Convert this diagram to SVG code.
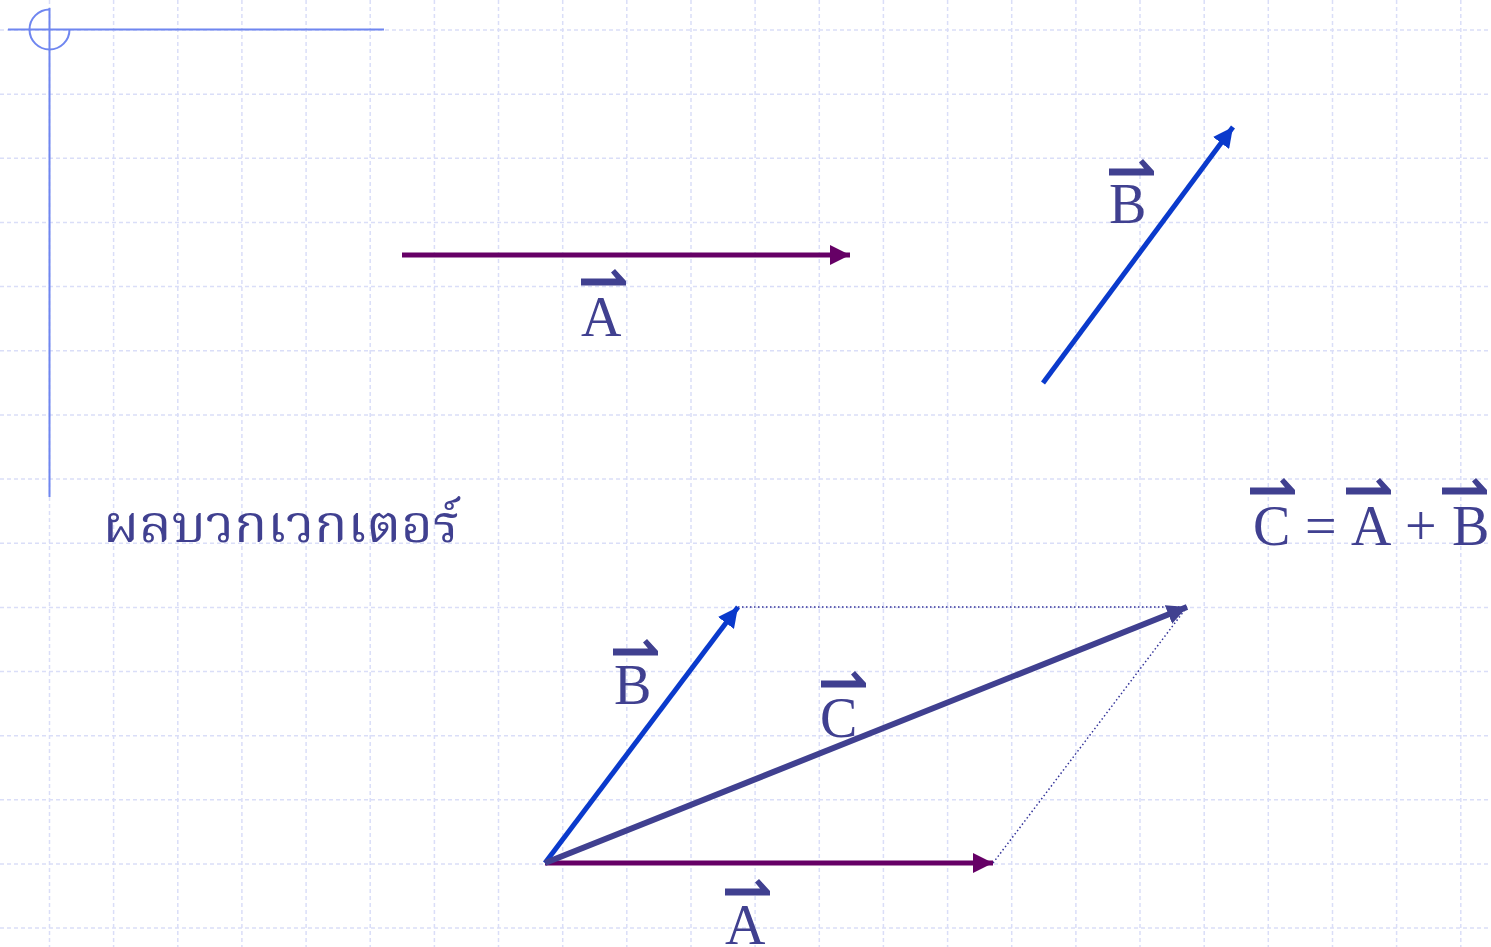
<svg xmlns="http://www.w3.org/2000/svg" width="1491" height="947" viewBox="0 0 1491 947">
<style>
.grid line{stroke:#dadef8;stroke-width:1.5;stroke-dasharray:4 3}
.frame{stroke:#6f86f0;stroke-width:2;fill:none}
.lbl{font-family:"Liberation Serif","Times New Roman",serif;font-size:56px;fill:#404090}
.thai{font-family:"Noto Serif Thai","Noto Sans Thai","Loma","Garuda","Tlwg Typo","Norasi","Liberation Serif",serif;font-size:52px;fill:#404090}
.va{fill:#404090}
.dot{stroke:#333399;stroke-width:1.5;stroke-dasharray:1.5 2.5;fill:none}
</style>
<defs>
<path id="ov" d="M0,-3.5 L35,-3.5 L30,-9.5 L34,-13 L45,-1 L45,3.5 L0,3.5 Z"/>
<marker id="hA" markerUnits="userSpaceOnUse" markerWidth="20" markerHeight="20" viewBox="0 0 18 18" refX="18" refY="9" orient="auto"><path d="M0,0 L18,9 L0,18 Z" fill="#660066"/></marker>
<marker id="hB" markerUnits="userSpaceOnUse" markerWidth="20" markerHeight="20" viewBox="0 0 18 18" refX="18" refY="9" orient="auto"><path d="M0,0 L18,9 L0,18 Z" fill="#0a3acc"/></marker>
<marker id="hC" markerUnits="userSpaceOnUse" markerWidth="20" markerHeight="20" viewBox="0 0 18 18" refX="18" refY="9" orient="auto"><path d="M0,0 L18,9 L0,18 Z" fill="#404090"/></marker>
</defs>
<rect width="1491" height="947" fill="#ffffff"/>
<g class="grid">
<line x1="0" y1="30" x2="1491" y2="30"/><line x1="0" y1="94.2" x2="1491" y2="94.2"/><line x1="0" y1="158.3" x2="1491" y2="158.3"/><line x1="0" y1="222.5" x2="1491" y2="222.5"/><line x1="0" y1="286.6" x2="1491" y2="286.6"/><line x1="0" y1="350.8" x2="1491" y2="350.8"/><line x1="0" y1="414.9" x2="1491" y2="414.9"/><line x1="0" y1="479.1" x2="1491" y2="479.1"/><line x1="0" y1="543.2" x2="1491" y2="543.2"/><line x1="0" y1="607.4" x2="1491" y2="607.4"/><line x1="0" y1="671.5" x2="1491" y2="671.5"/><line x1="0" y1="735.7" x2="1491" y2="735.7"/><line x1="0" y1="799.8" x2="1491" y2="799.8"/><line x1="0" y1="864" x2="1491" y2="864"/><line x1="0" y1="928.1" x2="1491" y2="928.1"/>
<line x1="49.5" y1="0" x2="49.5" y2="947"/><line x1="113.6" y1="0" x2="113.6" y2="947"/><line x1="177.8" y1="0" x2="177.8" y2="947"/><line x1="241.9" y1="0" x2="241.9" y2="947"/><line x1="306.1" y1="0" x2="306.1" y2="947"/><line x1="370.2" y1="0" x2="370.2" y2="947"/><line x1="434.4" y1="0" x2="434.4" y2="947"/><line x1="498.5" y1="0" x2="498.5" y2="947"/><line x1="562.7" y1="0" x2="562.7" y2="947"/><line x1="626.8" y1="0" x2="626.8" y2="947"/><line x1="691" y1="0" x2="691" y2="947"/><line x1="755.1" y1="0" x2="755.1" y2="947"/><line x1="819.3" y1="0" x2="819.3" y2="947"/><line x1="883.4" y1="0" x2="883.4" y2="947"/><line x1="947.6" y1="0" x2="947.6" y2="947"/><line x1="1011.7" y1="0" x2="1011.7" y2="947"/><line x1="1075.9" y1="0" x2="1075.9" y2="947"/><line x1="1140" y1="0" x2="1140" y2="947"/><line x1="1204.2" y1="0" x2="1204.2" y2="947"/><line x1="1268.3" y1="0" x2="1268.3" y2="947"/><line x1="1332.5" y1="0" x2="1332.5" y2="947"/><line x1="1396.6" y1="0" x2="1396.6" y2="947"/><line x1="1460.8" y1="0" x2="1460.8" y2="947"/>
</g>
<g id="frame">
<line class="frame" x1="8" y1="29.5" x2="384" y2="29.5"/>
<line class="frame" x1="49.5" y1="8" x2="49.5" y2="497"/>
<path class="frame" d="M49.5,9.5 A20,20 0 1 0 69.5,29.5"/>
</g>
<g id="connectors">
<line x1="402" y1="255" x2="850" y2="255" stroke="#660066" stroke-width="5" marker-end="url(#hA)"/>
<line x1="1043" y1="383" x2="1233" y2="127" stroke="#0a3acc" stroke-width="5" marker-end="url(#hB)"/>
<path class="dot" d="M738,607 L1187,607 M993,863 L1187,607"/>
<line x1="545" y1="863" x2="993" y2="863" stroke="#660066" stroke-width="5" marker-end="url(#hA)"/>
<line x1="545" y1="863" x2="738" y2="607" stroke="#0a3acc" stroke-width="5" marker-end="url(#hB)"/>
<line x1="545" y1="863" x2="1187" y2="607" stroke="#404090" stroke-width="6" marker-end="url(#hC)"/>
</g>
<g id="label-A-top">
<use href="#ov" class="va" x="581" y="282"/>
<text class="lbl" x="581" y="336">A</text>
</g>
<g id="label-B-top">
<use href="#ov" class="va" x="1109" y="172"/>
<text class="lbl" x="1109" y="223">B</text>
</g>
<g id="title">
<text class="thai" x="103" y="542" textLength="357" lengthAdjust="spacingAndGlyphs">ผลบวกเวกเตอร์</text>
</g>
<g id="equation">
<use href="#ov" class="va" x="1250" y="491"/>
<use href="#ov" class="va" x="1346" y="491"/>
<use href="#ov" class="va" x="1442" y="491"/>
<text class="lbl" y="545"><tspan x="1253">C</tspan><tspan x="1305">=</tspan><tspan x="1351">A</tspan><tspan x="1405">+</tspan><tspan x="1452">B</tspan></text>
</g>
<g id="label-B-bottom">
<use href="#ov" class="va" x="613" y="652"/>
<text class="lbl" x="614" y="704">B</text>
</g>
<g id="label-C">
<use href="#ov" class="va" x="821" y="684"/>
<text class="lbl" x="820" y="737">C</text>
</g>
<g id="label-A-bottom">
<use href="#ov" class="va" x="725" y="892"/>
<text class="lbl" x="725" y="944">A</text>
</g>
</svg>
